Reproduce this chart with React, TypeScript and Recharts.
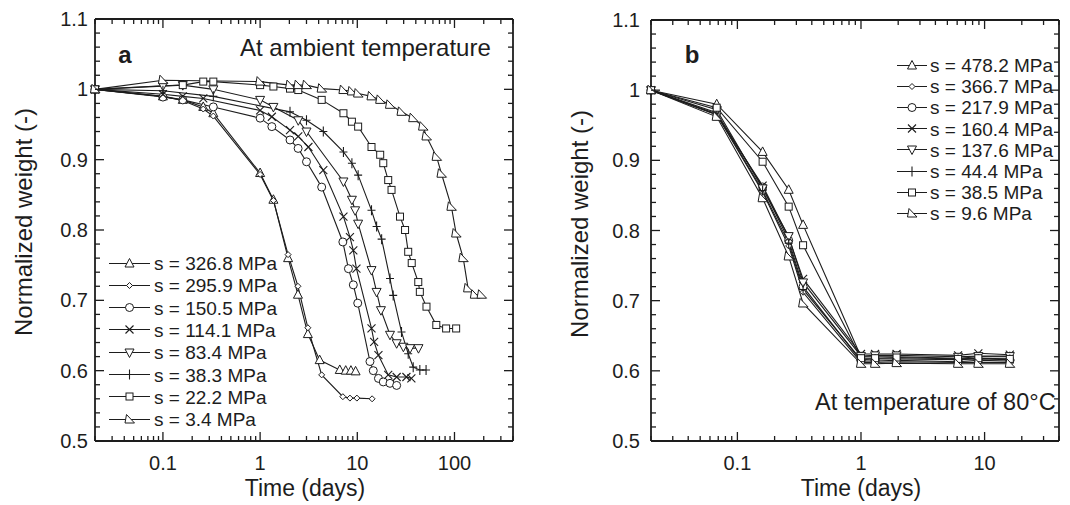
import React from 'react';
import { LineChart, Line, XAxis, YAxis } from 'recharts';

const FONT = '"Liberation Sans", Arial, Helvetica, sans-serif';
const INK = '#1d1d1d';

type Pt = [number, number];

// ---- panel a : ambient temperature (time in days, normalized weight) ----
const a326_8: Pt[] = [[0.02, 1.0], [0.1, 0.99], [0.16, 0.985], [0.26, 0.975], [0.33, 0.966], [1.0, 0.881], [1.37, 0.843], [1.94, 0.76], [2.45, 0.708], [3.1, 0.652], [4.1, 0.615], [6.6, 0.601], [7.6, 0.6], [8.6, 0.6], [9.6, 0.599]];
const a295_9: Pt[] = [[0.02, 1.0], [0.1, 0.99], [0.16, 0.984], [0.26, 0.972], [0.33, 0.962], [1.0, 0.879], [1.37, 0.842], [1.94, 0.765], [2.45, 0.72], [3.1, 0.661], [4.3, 0.594], [7.1, 0.563], [8.4, 0.561], [9.9, 0.561], [14.2, 0.56]];
const a150_5: Pt[] = [[0.02, 1.0], [0.1, 0.989], [0.16, 0.985], [0.33, 0.975], [1.0, 0.959], [1.32, 0.947], [2.03, 0.928], [2.46, 0.916], [3.0, 0.897], [4.3, 0.861], [7.1, 0.783], [8.1, 0.745], [9.1, 0.722], [10.1, 0.696], [13.5, 0.613], [14.6, 0.6], [16.5, 0.589], [18.5, 0.584], [21.7, 0.582], [25.4, 0.579]];
const a114_1: Pt[] = [[0.02, 1.0], [0.1, 0.993], [0.16, 0.99], [0.26, 0.987], [1.0, 0.97], [1.32, 0.961], [2.03, 0.942], [2.47, 0.933], [3.14, 0.918], [4.47, 0.885], [7.2, 0.819], [8.4, 0.79], [9.1, 0.771], [9.8, 0.745], [14.0, 0.66], [14.9, 0.641], [16.5, 0.622], [20.8, 0.594], [25.4, 0.591], [32, 0.591], [36, 0.589]];
const a83_4: Pt[] = [[0.02, 1.0], [0.1, 1.005], [0.16, 1.006], [0.33, 1.0], [1.0, 0.985], [1.37, 0.975], [2.47, 0.956], [3.0, 0.94], [7.2, 0.869], [8.8, 0.843], [9.5, 0.828], [10.2, 0.809], [14.0, 0.743], [15.8, 0.712], [17.5, 0.686], [21.7, 0.651], [25.4, 0.639], [29.8, 0.634], [34.9, 0.632], [42.6, 0.632]];
const a38_3: Pt[] = [[0.02, 1.0], [0.1, 0.998], [0.33, 0.99], [2.03, 0.968], [3.0, 0.956], [4.47, 0.94], [7.2, 0.911], [8.8, 0.895], [10.2, 0.878], [14.0, 0.828], [15.8, 0.805], [17.8, 0.787], [21.7, 0.731], [23.4, 0.707], [28.5, 0.655], [33.4, 0.624], [37.6, 0.605], [44, 0.601], [51, 0.601]];
const a22_2: Pt[] = [[0.02, 1.0], [0.16, 1.006], [0.26, 1.011], [0.33, 1.011], [1.0, 1.006], [1.37, 1.004], [2.03, 1.001], [2.47, 0.999], [4.3, 0.985], [7.2, 0.966], [8.8, 0.954], [10.2, 0.947], [14, 0.918], [17.2, 0.907], [18.5, 0.895], [20.8, 0.871], [22.5, 0.857], [27.5, 0.819], [31, 0.8], [33.4, 0.769], [36.3, 0.753], [42.4, 0.726], [44, 0.712], [51.5, 0.691], [65, 0.665], [82, 0.66], [104, 0.66]];
const a3_4: Pt[] = [[0.02, 1.0], [0.1, 1.013], [1.0, 1.011], [2.03, 1.006], [2.47, 1.006], [3.0, 1.006], [4.3, 1.001], [7.2, 0.999], [8.8, 0.997], [10.2, 0.994], [14, 0.99], [17.2, 0.985], [21.7, 0.978], [28.5, 0.968], [37.6, 0.959], [47.5, 0.947], [51.5, 0.933], [65.5, 0.904], [73.5, 0.88], [93, 0.833], [104, 0.795], [123, 0.76], [138, 0.717], [162, 0.708], [190, 0.708]];

const ambientSeries = [a326_8, a295_9, a150_5, a114_1, a83_4, a38_3, a22_2, a3_4];
const ambientLabels = ['s = 326.8 MPa', 's = 295.9 MPa', 's = 150.5 MPa', 's = 114.1 MPa', 's = 83.4 MPa', 's = 38.3 MPa', 's = 22.2 MPa', 's = 3.4 MPa'];

// ---- panel b : 80 °C ----
const b478_2: Pt[] = [[0.02, 1.0], [0.068, 0.98], [0.16, 0.912], [0.26, 0.858], [0.34, 0.808], [1, 0.62], [1.3, 0.62], [1.94, 0.62], [6.1, 0.618], [8.9, 0.62], [16, 0.62]];
const b366_7: Pt[] = [[0.02, 1.0], [0.068, 0.965], [0.16, 0.855], [0.26, 0.778], [0.34, 0.712], [1, 0.612], [1.3, 0.612], [1.94, 0.613], [6.1, 0.612], [8.9, 0.612], [16, 0.612]];
const b217_9: Pt[] = [[0.02, 1.0], [0.068, 0.968], [0.16, 0.862], [0.26, 0.786], [0.34, 0.72], [1, 0.614], [1.3, 0.614], [1.94, 0.615], [6.1, 0.613], [8.9, 0.615], [16, 0.614]];
const b160_4: Pt[] = [[0.02, 1.0], [0.068, 0.965], [0.16, 0.864], [0.26, 0.79], [0.34, 0.731], [1, 0.624], [1.3, 0.624], [1.94, 0.624], [6.1, 0.622], [8.9, 0.625], [16, 0.623]];
const b137_6: Pt[] = [[0.02, 1.0], [0.068, 0.972], [0.16, 0.86], [0.26, 0.792], [0.34, 0.726], [1, 0.621], [1.3, 0.622], [1.94, 0.622], [6.1, 0.62], [8.9, 0.621], [16, 0.621]];
const b44_4: Pt[] = [[0.02, 1.0], [0.068, 0.966], [0.16, 0.857], [0.26, 0.782], [0.34, 0.716], [1, 0.616], [1.3, 0.617], [1.94, 0.617], [6.1, 0.616], [8.9, 0.617], [16, 0.616]];
const b38_5: Pt[] = [[0.02, 1.0], [0.068, 0.975], [0.16, 0.898], [0.26, 0.834], [0.34, 0.779], [1, 0.618], [1.3, 0.618], [1.94, 0.619], [6.1, 0.617], [8.9, 0.618], [16, 0.617]];
const b9_6: Pt[] = [[0.02, 1.0], [0.068, 0.962], [0.16, 0.846], [0.26, 0.763], [0.34, 0.696], [1, 0.61], [1.3, 0.61], [1.94, 0.611], [6.1, 0.61], [8.9, 0.61], [16, 0.61]];

const hotSeries = [b478_2, b366_7, b217_9, b160_4, b137_6, b44_4, b38_5, b9_6];
const hotLabels = ['s = 478.2 MPa', 's = 366.7 MPa', 's = 217.9 MPa', 's = 160.4 MPa', 's = 137.6 MPa', 's = 44.4 MPa', 's = 38.5 MPa', 's = 9.6 MPa'];

const shapes = ['triUp', 'diamond', 'circle', 'cross', 'triDown', 'plus', 'square', 'triSkew'];

// axis ticks
const decades = [0.01, 0.1, 1, 10, 100];
const multipliers = [1, 2, 3, 4, 5, 6, 7, 8, 9];
const logTicks = decades.flatMap((d) => multipliers.map((m) => +(d * m).toPrecision(6)));
const xTicksA = logTicks.filter((v) => v >= 0.02 && v <= 400);
const xTicksB = logTicks.filter((v) => v >= 0.02 && v <= 40);
const yTicks = Array.from({ length: 31 }, (_, i) => +(0.5 + i * 0.02).toFixed(2));

const isDecade = (v: number) => Math.abs(Math.log10(v) - Math.round(Math.log10(v))) < 1e-6;
const isMajorY = (v: number) => Math.round(v * 100) % 10 === 0;
const fmtY = (v: number) => (v === 1 ? '1' : v.toFixed(1));

const toRows = (pts: Pt[]) => pts.map(([t, w]) => ({ t, w }));

function Marker({ shape, cx, cy }: { shape: string; cx: number; cy: number }) {
  const p = { fill: '#fff', stroke: INK, strokeWidth: 1 };
  switch (shape) {
    case 'triUp':
      return <polygon {...p} points={`${cx},${cy - 5} ${cx + 4.5},${cy + 3.5} ${cx - 4.5},${cy + 3.5}`} />;
    case 'triDown':
      return <polygon {...p} points={`${cx - 4.5},${cy - 3.5} ${cx + 4.5},${cy - 3.5} ${cx},${cy + 5}`} />;
    case 'triSkew':
      return <polygon {...p} points={`${cx - 3},${cy - 5} ${cx + 5},${cy + 3.5} ${cx - 4.5},${cy + 3.5}`} />;
    case 'diamond':
      return <polygon {...p} points={`${cx},${cy - 3} ${cx + 3},${cy} ${cx},${cy + 3} ${cx - 3},${cy}`} />;
    case 'circle':
      return <circle {...p} cx={cx} cy={cy} r={4} />;
    case 'square':
      return <rect {...p} x={cx - 3.5} y={cy - 3.5} width={7} height={7} />;
    case 'cross':
      return (
        <path stroke={INK} strokeWidth={1.1} fill="none" d={`M${cx - 4},${cy - 4}L${cx + 4},${cy + 4}M${cx - 4},${cy + 4}L${cx + 4},${cy - 4}`} />
      );
    case 'plus':
      return (
        <path stroke={INK} strokeWidth={1.1} fill="none" d={`M${cx},${cy - 5}L${cx},${cy + 5}M${cx - 4},${cy}L${cx + 4},${cy}`} />
      );
    default:
      return null;
  }
}

const tickText = { fontSize: 20, fontFamily: FONT, fill: INK };

function BottomTick(props: any) {
  const { x, y, payload } = props;
  const major = isDecade(payload.value);
  return (
    <g>
      <line x1={x} x2={x} y1={y} y2={y - (major ? 9 : 5)} stroke={INK} strokeWidth={1.3} />
      {major && (
        <text x={x} y={y + 29} textAnchor="middle" {...tickText}>
          {String(payload.value)}
        </text>
      )}
    </g>
  );
}

function TopTick(props: any) {
  const { x, y, payload } = props;
  const major = isDecade(payload.value);
  return <line x1={x} x2={x} y1={y} y2={y + (major ? 9 : 5)} stroke={INK} strokeWidth={1.3} />;
}

function LeftTick(props: any) {
  const { x, y, payload, gap } = props;
  const major = isMajorY(payload.value);
  return (
    <g>
      <line x1={x} x2={x + (major ? 9 : 5)} y1={y} y2={y} stroke={INK} strokeWidth={1.3} />
      {major && (
        <text x={x - gap} y={y + 7} textAnchor="end" {...tickText}>
          {fmtY(payload.value)}
        </text>
      )}
    </g>
  );
}

function RightTick(props: any) {
  const { x, y, payload } = props;
  const major = isMajorY(payload.value);
  return <line x1={x} x2={x - (major ? 9 : 5)} y1={y} y2={y} stroke={INK} strokeWidth={1.3} />;
}

interface PanelProps {
  left: number;
  width: number;
  margin: { top: number; right: number; bottom: number; left: number };
  xMax: number;
  xTicks: number[];
  series: Pt[][];
  names: string[];
  yGap: number;
}

// axes are 1px thick so recharts still draws them; margins are one px smaller to compensate
function Panel({ left, width, margin, xMax, xTicks, series, names, yGap }: PanelProps) {
  const frame = { stroke: INK, strokeWidth: 1.8 };
  const m = { top: margin.top - 1, bottom: margin.bottom - 1, left: margin.left - 1, right: margin.right - 1 };
  return (
    <div style={{ position: 'absolute', left, top: 0 }}>
      <LineChart width={width} height={505} margin={m}>
        <XAxis xAxisId="b" orientation="bottom" type="number" dataKey="t" scale="log" domain={[0.02, xMax]}
          ticks={xTicks} interval={0} height={1} tickSize={0} tickMargin={0} tickLine={false}
          axisLine={frame} tick={<BottomTick />} />
        <XAxis xAxisId="t" orientation="top" type="number" dataKey="t" scale="log" domain={[0.02, xMax]}
          allowDataOverflow ticks={xTicks} interval={0} height={1} tickSize={0} tickMargin={0} tickLine={false}
          axisLine={frame} tick={<TopTick />} />
        <YAxis yAxisId="l" orientation="left" type="number" domain={[0.5, 1.1]} ticks={yTicks} interval={0}
          width={1} tickSize={0} tickMargin={0} tickLine={false} axisLine={frame}
          tick={(p: any) => <LeftTick {...p} gap={yGap} />} />
        <YAxis yAxisId="r" orientation="right" type="number" domain={[0.5, 1.1]} allowDataOverflow ticks={yTicks}
          interval={0} width={1} tickSize={0} tickMargin={0} tickLine={false} axisLine={frame} tick={<RightTick />} />
        {series.map((pts, i) => (
          <Line
            key={names[i]}
            xAxisId="b"
            yAxisId="l"
            type="linear"
            data={toRows(pts)}
            dataKey="w"
            name={names[i]}
            stroke={INK}
            strokeWidth={1.1}
            isAnimationActive={false}
            dot={(d: any) =>
              d.cx == null ? <g key={`${i}-${d.index}`} /> : (
                <g key={`${i}-${d.index}`}>
                  <Marker shape={shapes[i]} cx={d.cx} cy={d.cy} />
                </g>
              )
            }
          />
        ))}
      </LineChart>
    </div>
  );
}

function LegendBlock({ x, y, step, lineLen, gap, names }: { x: number; y: number; step: number; lineLen: number; gap: number; names: string[] }) {
  return (
    <>
      {names.map((n, i) => (
        <div key={n} style={{ position: 'absolute', left: x, top: y + i * step, transform: 'translateY(-50%)', display: 'flex', alignItems: 'center', whiteSpace: 'nowrap', fontFamily: FONT, fontSize: 19, lineHeight: 1, color: INK }}>
          <svg width={lineLen} height={14} style={{ display: 'block' }}>
            <line x1={0} x2={lineLen} y1={7} y2={7} stroke={INK} strokeWidth={1.1} />
            <Marker shape={shapes[i]} cx={lineLen / 2} cy={7} />
          </svg>
          <span style={{ marginLeft: gap }}>{n}</span>
        </div>
      ))}
    </>
  );
}

const txt = (style: React.CSSProperties): React.CSSProperties => ({
  position: 'absolute', whiteSpace: 'nowrap', fontFamily: FONT, lineHeight: 1, color: INK, ...style,
});

export default function App() {
  return (
    <div style={{ position: 'absolute', left: 0, top: 0, width: 1070, height: 505, background: '#fff', overflow: 'hidden' }}>
      <Panel left={0} width={535} margin={{ top: 19, right: 22, bottom: 64, left: 95 }} xMax={400} xTicks={xTicksA}
        series={ambientSeries} names={ambientLabels} yGap={7} />
      <Panel left={535} width={535} margin={{ top: 20, right: 11, bottom: 64, left: 116 }} xMax={40} xTicks={xTicksB}
        series={hotSeries} names={hotLabels} yGap={11} />

      {/* axis titles */}
      <div style={txt({ left: 24, top: 222, fontSize: 24, transform: 'translate(-50%, -50%) rotate(-90deg)' })}>Normalized weight (-)</div>
      <div style={txt({ left: 580, top: 224, fontSize: 24, transform: 'translate(-50%, -50%) rotate(-90deg)' })}>Normalized weight (-)</div>
      <div style={txt({ left: 305, top: 488, fontSize: 23, transform: 'translate(-50%, -50%)' })}>Time (days)</div>
      <div style={txt({ left: 861, top: 488, fontSize: 23, transform: 'translate(-50%, -50%)' })}>Time (days)</div>

      {/* annotations */}
      <div style={txt({ left: 125, top: 55, fontSize: 24, fontWeight: 'bold', transform: 'translate(-50%, -50%)' })}>a</div>
      <div style={txt({ left: 692, top: 55, fontSize: 24, fontWeight: 'bold', transform: 'translate(-50%, -50%)' })}>b</div>
      <div style={txt({ left: 240, top: 48, fontSize: 24, transform: 'translateY(-50%)' })}>At ambient temperature</div>
      <div style={txt({ left: 815, top: 403, fontSize: 23.5, transform: 'translateY(-50%)' })}>At temperature of 80°C</div>

      <LegendBlock x={109} y={263} step={22.3} lineLen={41} gap={4} names={ambientLabels} />
      <LegendBlock x={897} y={65} step={21.2} lineLen={30} gap={3} names={hotLabels} />
    </div>
  );
}
